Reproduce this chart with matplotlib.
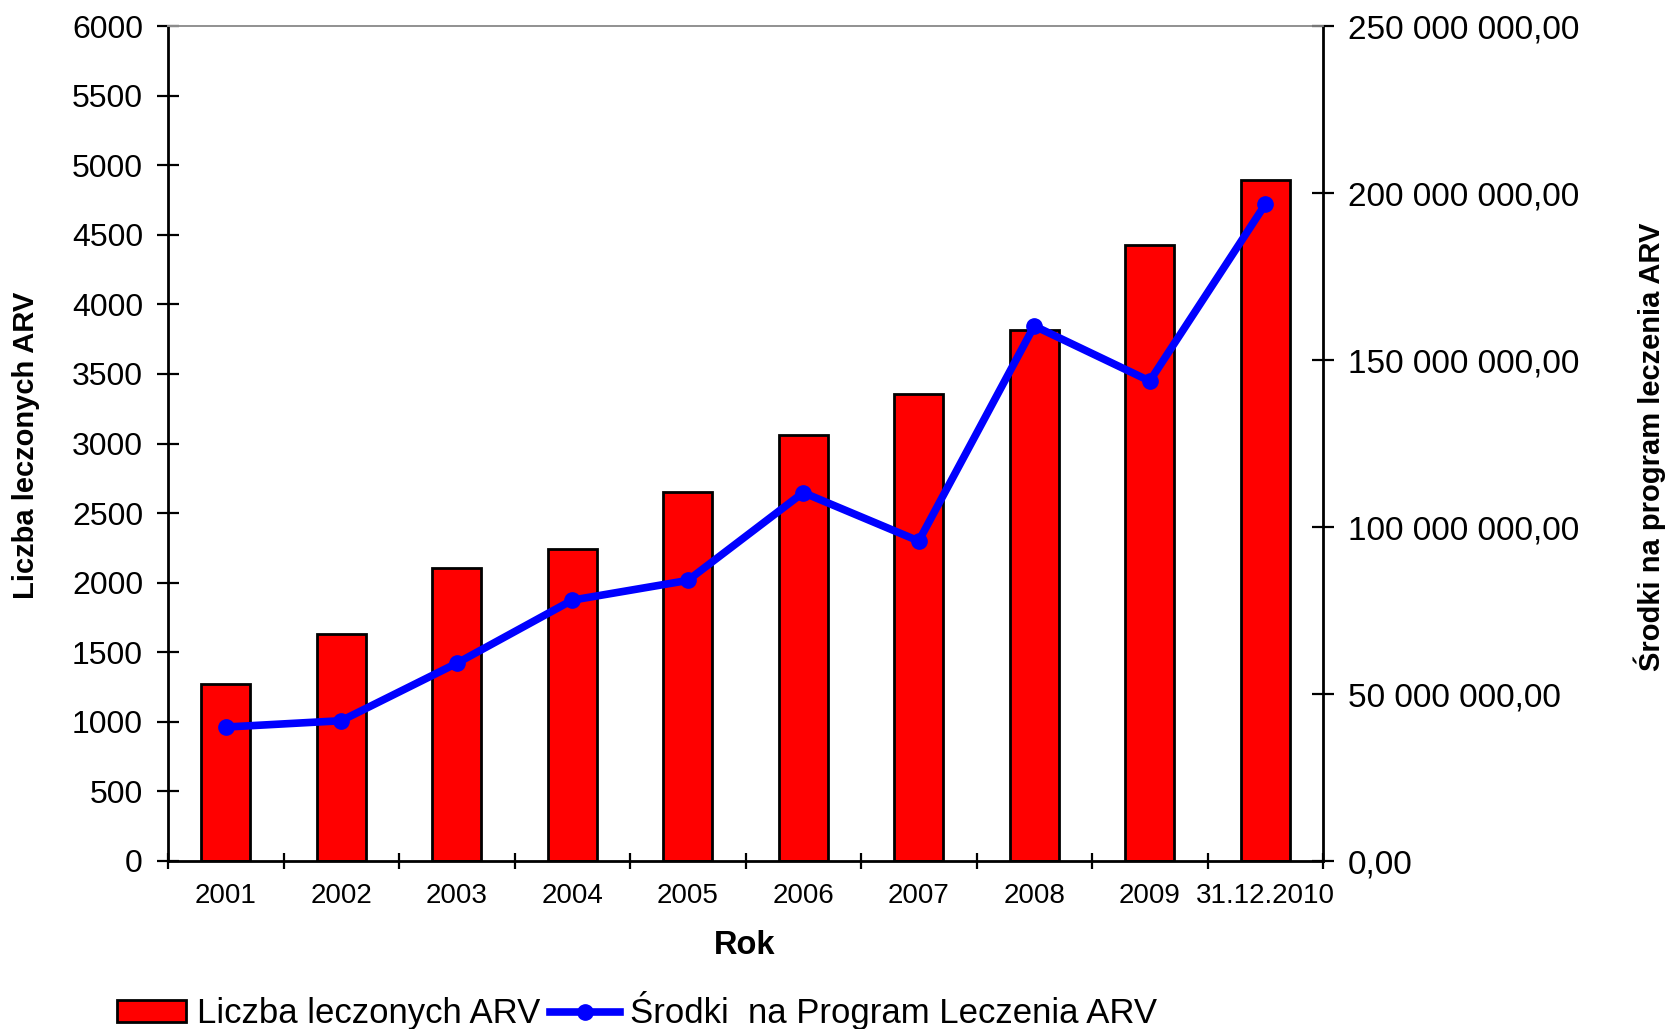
import matplotlib
matplotlib.use("Agg")
import matplotlib.pyplot as plt
import numpy as np
from matplotlib.ticker import FuncFormatter, FixedLocator
from matplotlib.patches import Patch
from matplotlib.lines import Line2D

plt.rcParams['font.family'] = ['Liberation Sans', 'DejaVu Sans']

# ---- data ----
years = ["2001", "2002", "2003", "2004", "2005", "2006", "2007", "2008", "2009", "31.12.2010"]
patients = [1270, 1633, 2103, 2244, 2650, 3059, 3358, 3814, 4427, 4896]
funds = [40.1e6, 42.0e6, 59.2e6, 78.1e6, 84.0e6, 110.3e6, 95.8e6, 160.2e6, 143.7e6, 196.6e6]
left_ticks = list(range(0, 6001, 500))
right_ticks = [0, 50e6, 100e6, 150e6, 200e6, 250e6]
bar_label = "Liczba leczonych ARV"
line_label = "Środki  na Program Leczenia ARV"

W, H = 1668, 1029
fig = plt.figure(figsize=(W / 100, H / 100), dpi=100)
L, R, T, B = 168, 1323, 26, 861
ax = fig.add_axes([L / W, 1 - B / H, (R - L) / W, (B - T) / H])

x = np.arange(len(years))
ax.bar(x, patients, width=0.42, color="#FF0000", edgecolor="black", linewidth=2.0, zorder=2)
ax.set_xlim(-0.5, len(years) - 0.5)
ax.set_ylim(0, 6000)
ax.set_yticks(left_ticks)
ax.tick_params(axis='y', direction='inout', length=16, width=1.6, labelsize=23, pad=10)

# x ticks: labels at centres, tick marks at boundaries
ax.set_xticks(x)
ax.set_xticklabels(years)
ax.tick_params(axis='x', which='major', length=0, labelsize=20, pad=16)
ax.xaxis.set_minor_locator(FixedLocator(np.arange(-0.5, len(years), 1.0)))
ax.tick_params(axis='x', which='minor', direction='inout', length=11, width=1.6)

for s in ['left', 'bottom']:
    ax.spines[s].set_linewidth(2)
    ax.spines[s].set_color('black')
ax.spines['top'].set_color('#909090')
ax.spines['top'].set_linewidth(1.2)
ax.spines['right'].set_visible(False)

ax2 = ax.twinx()
ax2.plot(x, funds, color="#0000FF", linewidth=5.5, marker='o', markersize=11, zorder=3)
ax2.set_ylim(0, 250e6)
ax2.set_yticks(right_ticks)
ax2.yaxis.set_major_formatter(FuncFormatter(
    lambda v, p: f"{v:,.2f}".replace(',', ' ').replace('.', ',')))
ax2.tick_params(axis='y', direction='inout', length=16, width=1.6, labelsize=24, pad=10)
ax2.spines['right'].set_linewidth(2)
ax2.spines['right'].set_color('black')
ax2.spines['left'].set_visible(False)
ax2.spines['bottom'].set_visible(False)
ax2.spines['top'].set_color('#909090')
ax2.spines['top'].set_linewidth(1.2)

# axis titles
fig.text(26 / W, 1 - 445 / H, "Liczba leczonych ARV", rotation=90, ha='center', va='center',
         fontsize=21, fontweight='bold')
fig.text(1650 / W, 1 - 447 / H, "Środki na program leczenia ARV", rotation=90, ha='center',
         va='center', fontsize=21, fontweight='bold')
fig.text(745 / W, 1 - 946 / H, "Rok", ha='center', va='center', fontsize=23.5, fontweight='bold')

handles = [Patch(facecolor="#FF0000", edgecolor="black", linewidth=2.0),
           Line2D([0], [0], color="#0000FF", linewidth=5.5, marker='o', markersize=11)]
fig.legend(handles, [bar_label, line_label], loc='center', bbox_to_anchor=(637 / W, 1 - 1011 / H),
           ncol=2, frameon=False, fontsize=25, handlelength=2.0, handleheight=0.6,
           handletextpad=0.3, columnspacing=0.3, borderpad=0, borderaxespad=0)

fig.savefig("out.png", dpi=100)
